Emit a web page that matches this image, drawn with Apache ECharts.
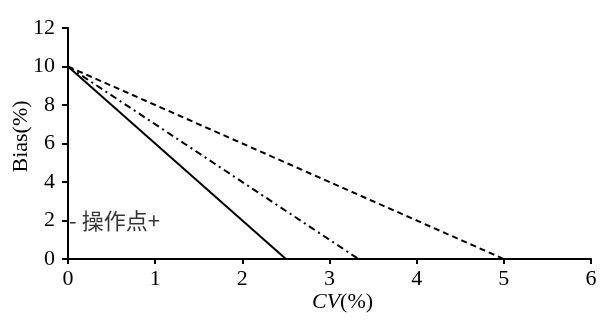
<!DOCTYPE html>
<html>
<head>
<meta charset="utf-8">
<script src="https://cdn.jsdelivr.net/npm/echarts@6/dist/echarts.min.js"></script>
<style>html,body{margin:0;padding:0;background:#fff}#c{width:606px;height:329px}</style>
</head>
<body>
<div id="c"></div>
<script>
const xTicks = [0, 1, 2, 3, 4, 5, 6];
const yTicks = [0, 2, 4, 6, 8, 10, 12];
const solidLine = [[0, 10], [2.5, 0]];
const dashDotLine = [[0, 10], [3.333, 0]];
const dashedLine = [[0, 10], [5, 0]];
const annotation = [[0, 2]];
const annotationText = ['-', '操作点', '+'];
const xName = 'CV';
const yName = 'Bias(%)';

const serif = '"Liberation Serif", "Times New Roman", serif';
const cjk = '"Noto Sans CJK SC", serif';
const chart = echarts.init(document.getElementById('c'), null, {renderer: 'canvas'});
const lineStyleBase = {color: '#000', width: 2};
chart.setOption({
  animation: false,
  backgroundColor: '#fff',
  grid: {left: 68, right: 15, top: 28, bottom: 70, containLabel: false, outerBoundsMode: 'none'},
  xAxis: {
    type: 'value', min: xTicks[0], max: xTicks[xTicks.length - 1], interval: 1,
    name: '{i|' + xName + '}(%)', nameLocation: 'middle', nameGap: 32, nameMoveOverlap: false,
    nameTextStyle: {color: '#000', fontFamily: serif, fontSize: 22, padding: [0, 0, 0, 26],
      rich: {i: {fontStyle: 'italic', fontFamily: serif, fontSize: 22, color: '#000'}}},
    axisLine: {show: true, onZero: false, lineStyle: {color: '#000', width: 2}},
    axisTick: {show: true, length: 5, lineStyle: {color: '#000', width: 2}},
    axisLabel: {color: '#000', fontFamily: serif, fontSize: 22, margin: 9},
    splitLine: {show: false}
  },
  yAxis: {
    type: 'value', min: yTicks[0], max: yTicks[yTicks.length - 1], interval: 2,
    name: yName, nameLocation: 'middle', nameGap: 36, nameRotate: 90, nameMoveOverlap: false,
    nameTextStyle: {color: '#000', fontFamily: serif, fontSize: 22, padding: [0, 0, 0, 14]},
    axisLine: {show: true, onZero: false, lineStyle: {color: '#000', width: 2}},
    axisTick: {show: true, length: 6, lineStyle: {color: '#000', width: 2}},
    axisLabel: {color: '#000', fontFamily: serif, fontSize: 22, margin: 13},
    splitLine: {show: false}
  },
  series: [
    {type: 'line', data: solidLine, symbol: 'none', lineStyle: Object.assign({}, lineStyleBase, {type: 'solid'})},
    {type: 'line', data: dashDotLine, symbol: 'none', lineStyle: Object.assign({}, lineStyleBase, {type: [7, 4, 2, 4]})},
    {type: 'line', data: dashedLine, symbol: 'none', lineStyle: Object.assign({}, lineStyleBase, {type: [6, 4]})},
    {type: 'scatter', data: annotation, symbolSize: 0, silent: true,
      label: {show: true, position: 'right', distance: 1,
        formatter: '{d|' + annotationText[0] + '}{t|' + annotationText[1] + '}{p|' + annotationText[2] + '}',
        rich: {
          d: {fontFamily: cjk, fontSize: 22, color: '#000', padding: [0, 5, 0, 0]},
          t: {fontFamily: cjk, fontSize: 22, color: '#000'},
          p: {fontFamily: cjk, fontSize: 22, color: '#000'}
        }}}
  ]
});
</script>
</body>
</html>
